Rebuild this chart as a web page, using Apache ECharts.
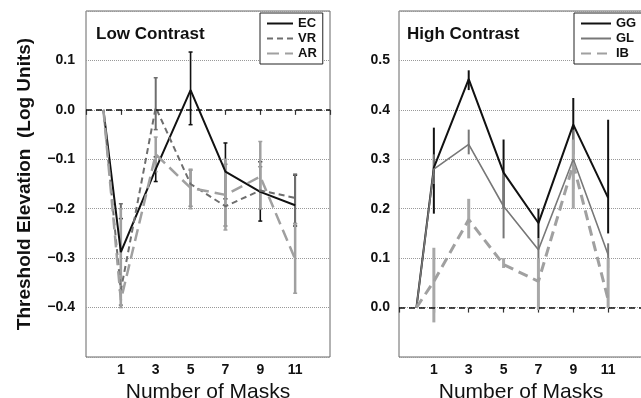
<!DOCTYPE html>
<html>
<head>
<meta charset="utf-8">
<script src="https://cdn.jsdelivr.net/npm/echarts@6/dist/echarts.min.js"></script>
<style>html,body{margin:0;padding:0;background:#fff;}#c{width:641px;height:398px;}</style>
</head>
<body>
<div id="c"></div>
<script>
// ---- data ----
const masks = [0, 1, 3, 5, 7, 9, 11];
const xTickLabels = ['1', '3', '5', '7', '9', '11'];
const lowTicks = ['−0.4', '−0.3', '−0.2', '−0.1', '0.0', '0.1'];
const highTicks = ['0.0', '0.1', '0.2', '0.3', '0.4', '0.5'];

// Low contrast
const EC = [0, -0.288, -0.12, 0.04, -0.125, -0.166, -0.193];
const EC_lo = [null, -0.365, -0.145, -0.03, -0.18, -0.225, -0.235];
const EC_hi = [null, -0.22, -0.095, 0.117, -0.067, -0.105, -0.132];
const VR = [0, -0.365, 0.005, -0.15, -0.195, -0.163, -0.178];
const VR_lo = [null, -0.395, -0.04, -0.195, -0.235, -0.2, -0.23];
const VR_hi = [null, -0.19, 0.065, -0.122, -0.11, -0.115, -0.13];
const AR = [0, -0.385, -0.09, -0.158, -0.172, -0.135, -0.302];
const AR_lo = [null, -0.4, -0.125, -0.2, -0.243, -0.2, -0.371];
const AR_hi = [null, -0.2, -0.055, -0.12, -0.1, -0.064, -0.23];

// High contrast
const GG = [0, 0.283, 0.462, 0.273, 0.171, 0.37, 0.222];
const GG_lo = [null, 0.19, 0.44, 0.2, 0.14, 0.31, 0.15];
const GG_hi = [null, 0.364, 0.48, 0.34, 0.2, 0.424, 0.38];
const GL = [0, 0.28, 0.33, 0.205, 0.117, 0.3, 0.107];
const GL_lo = [null, 0.25, 0.31, 0.14, 0.09, 0.24, 0.08];
const GL_hi = [null, 0.31, 0.36, 0.27, 0.14, 0.36, 0.13];
const IB = [0, 0.053, 0.178, 0.087, 0.053, 0.29, 0.016];
const IB_lo = [null, -0.03, 0.14, 0.08, -0.005, 0.2, 0.0];
const IB_hi = [null, 0.121, 0.22, 0.1, 0.1, 0.34, 0.1];

// ---- helpers ----
function pts(v) { return masks.map((x, i) => [x, v[i]]); }
function errs(lo, hi) {
  const out = [];
  masks.forEach((x, i) => { if (lo[i] !== null) out.push([x, lo[i], hi[i]]); });
  return out;
}
function errSeries(lo, hi, color, width, cap, gi) {
  return {
    type: 'custom', xAxisIndex: gi, yAxisIndex: gi, silent: true, z: 2,
    data: errs(lo, hi),
    renderItem: function (params, api) {
      const x = api.value(0);
      const a = api.coord([x, api.value(2)]);
      const b = api.coord([x, api.value(1)]);
      const ch = [{ type: 'line', shape: { x1: a[0], y1: a[1], x2: b[0], y2: b[1] },
        style: { stroke: color, lineWidth: width } }];
      if (cap) {
        [a, b].forEach(p => ch.push({ type: 'line', shape: { x1: p[0] - cap, y1: p[1], x2: p[0] + cap, y2: p[1] },
          style: { stroke: color, lineWidth: 1.5 } }));
      }
      return { type: 'group', children: ch };
    }
  };
}
function lineSeries(name, v, color, width, dash, gi, extra) {
  return Object.assign({
    name: name, type: 'line', xAxisIndex: gi, yAxisIndex: gi, z: 3,
    data: pts(v), symbol: 'none', silent: true, animation: false,
    lineStyle: { color: color, width: width, type: dash },
    itemStyle: { color: color }
  }, extra || {});
}
const zeroLine = {
  markLine: { silent: true, symbol: 'none', animation: false, label: { show: false },
    lineStyle: { type: [6, 4], color: '#111', width: 1.5 }, data: [{ yAxis: 0 }] }
};

const font = 'Liberation Sans, Arial, sans-serif';
function xAxis(gi) {
  return {
    type: 'value', gridIndex: gi, min: -1, max: 13, interval: 2,
    axisLine: { show: false },
    axisTick: { show: true, length: 5, lineStyle: { color: '#333', width: 1.2 } },
    splitLine: { show: false },
    axisLabel: { margin: 6, fontFamily: font, fontWeight: 'bold', fontSize: 14, color: '#111',
      formatter: v => { const i = Math.round((v - 1) / 2); return (i >= 0 && i < xTickLabels.length) ? xTickLabels[i] : ''; } },
    name: 'Number of Masks', nameLocation: 'middle', nameGap: 21,
    nameTextStyle: { fontFamily: font, fontSize: 21, color: '#111' }
  };
}
function yAxis(gi, min, max, labels, base, withName) {
  const ax = {
    type: 'value', gridIndex: gi, min: min, max: max, interval: 0.1,
    axisLine: { show: false }, axisTick: { show: false },
    splitLine: { show: true, lineStyle: { type: [1, 1], color: '#999', width: 1 } },
    axisLabel: { margin: gi === 0 ? 11 : 9, fontFamily: font, fontWeight: 'bold', fontSize: 14, color: '#111',
      formatter: v => { const i = Math.round((v - base) * 10); return (i >= 0 && i < labels.length) ? labels[i] : ''; } }
  };
  if (withName) {
    Object.assign(ax, { name: 'Threshold Elevation  (Log Units)', nameLocation: 'middle', nameGap: 52,
      nameTextStyle: { fontFamily: font, fontWeight: 'bold', fontSize: 19, color: '#111' } });
  }
  return ax;
}
function legend(names, left, iw) {
  return {
    data: names, orient: 'vertical', left: left, top: 13, itemWidth: iw, itemHeight: 8, itemGap: 2,
    padding: [4, 6, 4, 6], borderColor: '#222', borderWidth: 1, backgroundColor: '#fff',
    selectedMode: false, z: 10,
    itemStyle: { opacity: 0 },
    textStyle: { fontFamily: font, fontWeight: 'bold', fontSize: 13, color: '#111' }
  };
}

const chart = echarts.init(document.getElementById('c'), null, { renderer: 'canvas' });
chart.setOption({
  animation: false,
  backgroundColor: '#fff',
  grid: [
    { left: 86, top: 11, width: 244, height: 346, show: true, borderColor: '#666', borderWidth: 1, outerBoundsMode: 'none', containLabel: false },
    { left: 399, top: 11, width: 244, height: 346, show: true, borderColor: '#666', borderWidth: 1, outerBoundsMode: 'none', containLabel: false }
  ],
  xAxis: [xAxis(0), xAxis(1)],
  yAxis: [yAxis(0, -0.5, 0.2, lowTicks, -0.4, true), yAxis(1, -0.1, 0.6, highTicks, 0.0, false)],
  title: [
    { text: 'Low Contrast', left: 96, top: 26, textStyle: { fontFamily: font, fontWeight: 'bold', fontSize: 17, color: '#111' }, padding: 0 },
    { text: 'High Contrast', left: 407, top: 26, textStyle: { fontFamily: font, fontWeight: 'bold', fontSize: 17, color: '#111' }, padding: 0 }
  ],
  legend: [legend(['EC', 'VR', 'AR'], 260, 26), legend(['GG', 'GL', 'IB'], 574, 30)],
  series: [
    errSeries(EC_lo, EC_hi, '#111', 1.6, 2, 0),
    errSeries(VR_lo, VR_hi, '#6e6e6e', 2, 2, 0),
    errSeries(AR_lo, AR_hi, '#a0a0a0', 2.5, 2, 0),
    lineSeries('EC', EC, '#111', 2, 'solid', 0, zeroLine),
    lineSeries('VR', VR, '#6e6e6e', 2, [6, 4], 0),
    lineSeries('AR', AR, '#a0a0a0', 2.5, [12, 6], 0),
    errSeries(GG_lo, GG_hi, '#111', 2, 0, 1),
    errSeries(GL_lo, GL_hi, '#777', 2, 0, 1),
    errSeries(IB_lo, IB_hi, '#a8a8a8', 3, 0, 1),
    lineSeries('GG', GG, '#111', 2, 'solid', 1, zeroLine),
    lineSeries('GL', GL, '#777', 1.6, 'solid', 1),
    lineSeries('IB', IB, '#a0a0a0', 3, [10, 6], 1)
  ]
});
</script>
</body>
</html>
